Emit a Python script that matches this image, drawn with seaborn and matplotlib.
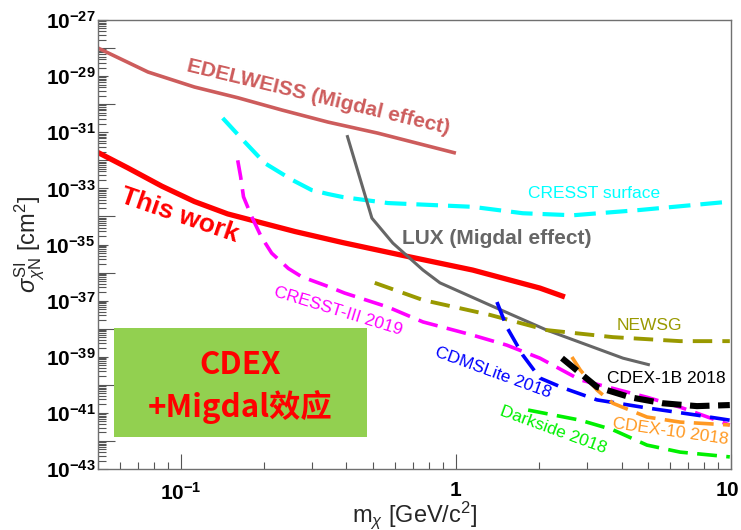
import matplotlib
matplotlib.use("Agg")
import matplotlib.pyplot as plt
import matplotlib.ticker as mticker
import matplotlib.transforms as mtransforms
from matplotlib.patches import Rectangle
import numpy as np
import pandas as pd
import seaborn as sns

# ---------------- exclusion limits (mass in GeV/c^2, cross section in cm^2) ----------------
edelweiss_x = [0.05, 0.076, 0.112, 0.161, 0.233, 0.343, 0.52, 1.0]
edelweiss_y = [1.0e-28, 1.4e-29, 4.1e-30, 1.7e-30, 6.2e-31, 2.3e-31, 9.3e-32, 1.8e-32]

thiswork_x = [0.05, 0.0641, 0.0853, 0.112, 0.148, 0.197, 0.26, 0.388, 0.625, 1.15, 2.02, 2.49]
thiswork_y = [1.9e-32, 5.4e-33, 1.2e-33, 3.4e-34, 1.23e-34, 5.9e-35, 2.9e-35, 1.17e-35,
              4.3e-36, 1.23e-36, 2.8e-37, 1.35e-37]

cresst_surf_x = [0.142, 0.164, 0.175, 0.202, 0.254, 0.299, 0.343, 0.388, 0.566, 1.15, 1.75, 2.66, 4.67, 9.35]
cresst_surf_y = [3.2e-31, 6.9e-32, 3.5e-32, 7.9e-33, 2.0e-33, 8.7e-34, 6.3e-34, 4.9e-34, 3.0e-34,
                 2.2e-34, 1.3e-34, 1.1e-34, 1.7e-34, 3.2e-34]

lux_x = [0.402, 0.495, 0.59, 0.759, 0.875, 1.33, 2.14, 4.05, 5.07]
lux_y = [7.9e-32, 8.7e-35, 1.12e-35, 1.23e-36, 4.3e-37, 6.9e-38, 8.9e-39, 8.9e-40, 5.1e-40]

cresst3_x = [0.161, 0.165, 0.169, 0.181, 0.196, 0.214, 0.246, 0.275, 0.343, 0.394, 0.566, 0.759,
             1.15, 1.53, 2.02, 2.83, 4.95, 6.53, 9.9]
cresst3_y = [1.0e-32, 2.6e-33, 5.0e-34, 9.8e-35, 1.9e-35, 4.9e-36, 1.4e-36, 7.1e-37, 3.2e-37, 1.86e-37,
             5.9e-38, 1.74e-38, 5.9e-39, 2.6e-39, 8.9e-40, 1.5e-40, 3.6e-41, 1.6e-41, 3.7e-42]

newsg_x = [0.507, 0.759, 1.33, 2.14, 3.72, 6.53, 9.9]
newsg_y = [4.3e-37, 1.05e-37, 3.1e-38, 8.9e-39, 5.0e-39, 3.6e-39, 3.6e-39]

cdmslite_x = [1.41, 1.53, 1.75, 2.02, 2.45, 3.26, 4.95, 7.52, 9.9]
cdmslite_y = [8.9e-38, 1.15e-38, 1.15e-39, 1.74e-40, 7.8e-41, 2.9e-41, 1.5e-41, 8.3e-42, 5.5e-42]

darkside_x = [1.83, 2.83, 3.72, 4.95, 6.53, 9.9]
darkside_y = [1.26e-41, 5.5e-42, 2.5e-42, 7.1e-43, 4.0e-43, 2.7e-43]

cdex10_x = [2.64, 2.83, 3.26, 3.72, 4.95, 6.53, 9.9]
cdex10_y = [9.8e-40, 3.4e-40, 6.5e-41, 2.2e-41, 7.1e-42, 4.7e-42, 3.7e-42]

cdex1b_x = [2.43, 2.83, 3.26, 4.30, 5.66, 7.52, 9.9]
cdex1b_y = [8.9e-40, 2.6e-40, 8.3e-41, 3.6e-41, 2.2e-41, 1.74e-41, 1.9e-41]

x_tick_values = [0.1, 1, 10]
x_tick_labels = [r"$\mathbf{10^{-1}}$", r"$\mathbf{1}$", r"$\mathbf{10}$"]

# ---------------- style ----------------
sns.set_style("white")
plt.rcParams.update({
    "font.family": ["Liberation Sans", "DejaVu Sans"],
    "mathtext.fontset": "custom",
    "mathtext.rm": "Liberation Sans",
    "mathtext.it": "Liberation Sans:italic",
    "mathtext.bf": "Liberation Sans:bold",
    "mathtext.sf": "Liberation Sans",
    "axes.unicode_minus": True,
    "lines.solid_capstyle": "butt",
    "lines.dash_capstyle": "butt",
})

fig = plt.figure(figsize=(7.41, 5.30), dpi=100)
ax = fig.add_axes([98 / 741, 1 - 469 / 530, 633 / 741, 449 / 530])

frames = []
series = [
    ("EDELWEISS", edelweiss_x, edelweiss_y),
    ("This work", thiswork_x, thiswork_y),
    ("CRESST surface", cresst_surf_x, cresst_surf_y),
    ("LUX", lux_x, lux_y),
    ("CRESST-III 2019", cresst3_x, cresst3_y),
    ("NEWSG", newsg_x, newsg_y),
    ("CDMSLite 2018", cdmslite_x, cdmslite_y),
    ("Darkside 2018", darkside_x, darkside_y),
    ("CDEX-10 2018", cdex10_x, cdex10_y),
    ("CDEX-1B 2018", cdex1b_x, cdex1b_y),
]
for name, xs, ys in series:
    frames.append(pd.DataFrame({"experiment": name, "mass": xs, "sigma": ys}))
df = pd.concat(frames, ignore_index=True)

styles = {
    "EDELWEISS":       dict(color="#CD5C5C", lw=2.6, ls="-"),
    "This work":       dict(color="#FF0000", lw=3.8, ls="-"),
    "CRESST surface":  dict(color="#00FFFF", lw=3.0, ls=(0, (5.2, 2.4))),
    "LUX":             dict(color="#666666", lw=2.2, ls="-"),
    "CRESST-III 2019": dict(color="#FF00FF", lw=2.6, ls=(0, (5.5, 2.6))),
    "NEWSG":           dict(color="#999900", lw=2.8, ls=(0, (5.0, 2.6))),
    "CDMSLite 2018":   dict(color="#0000FF", lw=2.6, ls=(0, (5.5, 2.6))),
    "Darkside 2018":   dict(color="#00F000", lw=2.6, ls=(0, (5.5, 2.6))),
    "CDEX-10 2018":    dict(color="#FF9922", lw=2.6, ls=(0, (5.5, 2.6))),
    "CDEX-1B 2018":    dict(color="#000000", lw=4.4, ls=(0, (3.2, 1.4))),
}

for name, _, _ in series:
    st = styles[name]
    sns.lineplot(data=df[df["experiment"] == name], x="mass", y="sigma", ax=ax,
                 color=st["color"], linewidth=st["lw"], linestyle=st["ls"],
                 estimator=None, sort=False, legend=False)

ax.set_xscale("log")
ax.set_yscale("log")
ax.set_xlim(0.05, 10)
ax.set_ylim(1e-43, 1e-27)

# ---------------- axes, ticks ----------------
for sp in ax.spines.values():
    sp.set_color("#707070")
    sp.set_linewidth(1.0)

y_exponents = list(range(-43, -26))
y_major = [10.0 ** e for e in y_exponents]
y_minor = [m * 10.0 ** e for e in range(-43, -27) for m in range(2, 10)]
ax.yaxis.set_major_locator(mticker.FixedLocator(y_major))
ax.yaxis.set_minor_locator(mticker.FixedLocator(y_minor))


def ylab(v, pos):
    e = int(round(np.log10(v)))
    return r"$\mathbf{10^{%d}}$" % e if e % 2 else ""


ax.yaxis.set_major_formatter(mticker.FuncFormatter(ylab))
ax.yaxis.set_minor_formatter(mticker.NullFormatter())

x_minor = [m * 10.0 ** e for e in range(-2, 1) for m in range(2, 10)]
x_minor = [v for v in x_minor if 0.05 <= v <= 10]
ax.xaxis.set_major_locator(mticker.FixedLocator(x_tick_values))
ax.xaxis.set_major_formatter(mticker.FixedFormatter(x_tick_labels))
ax.xaxis.set_minor_locator(mticker.FixedLocator(x_minor))
ax.xaxis.set_minor_formatter(mticker.NullFormatter())

ax.tick_params(axis="both", which="both", direction="in", colors="#555555",
               labelcolor="black", width=0.8, top=False, right=False,
               left=True, bottom=True)
ax.tick_params(axis="y", which="major", length=7, pad=2, labelsize=15)
ax.tick_params(axis="y", which="minor", length=5.5)
ax.tick_params(axis="x", which="major", length=10.5, pad=9, labelsize=15)
ax.tick_params(axis="x", which="minor", length=5)

# longer ticks on the even decades
for t, e in zip(ax.yaxis.get_major_ticks(len(y_major)), y_exponents):
    if e % 2 == 0:
        t.tick1line.set_markersize(12)

# keep the last x label inside the canvas
last_label = ax.xaxis.get_major_ticks(len(x_tick_values))[-1].label1
last_label.set_transform(last_label.get_transform() +
                         mtransforms.ScaledTranslation(-2.5 / 72, 0, fig.dpi_scale_trans))

ax.set_xlabel(r"m$_{\chi}$ [GeV/c$^{2}$]", fontsize=17, labelpad=-3)
ax.set_ylabel(r"$\sigma^{\rm SI}_{\chi \rm N}$ [cm$^{2}$]", fontsize=17, labelpad=-1)

# ---------------- curve labels ----------------
ax.text(0.315, 1.8e-30, "EDELWEISS (Migdal effect)", color="#CD5C5C", fontsize=15,
        fontweight="bold", rotation=-13.5, ha="center", va="center", rotation_mode="anchor")
ax.text(0.099, 1.1e-34, "This work", color="#FF0000", fontsize=19, fontweight="bold",
        rotation=-19, ha="center", va="center", rotation_mode="anchor")
ax.text(3.18, 6.8e-34, "CRESST surface", color="#00FFFF", fontsize=12.5,
        ha="center", va="center")
ax.text(1.41, 1.6e-35, "LUX (Migdal effect)", color="#666666", fontsize=15,
        fontweight="bold", ha="center", va="center")
ax.text(0.372, 4.3e-38, "CRESST-III 2019", color="#FF00FF", fontsize=12.5,
        rotation=-17, ha="center", va="center", rotation_mode="anchor")
ax.text(5.07, 1.35e-38, "NEWSG", color="#999900", fontsize=12.5, ha="center", va="center")
ax.text(1.36, 2.6e-40, "CDMSLite 2018", color="#0000FF", fontsize=12.5,
        rotation=-20, ha="center", va="center", rotation_mode="anchor")
ax.text(5.8, 1.74e-40, "CDEX-1B 2018", color="#000000", fontsize=12.5, ha="center", va="center")
ax.text(2.25, 2.5e-42, "Darkside 2018", color="#00F000", fontsize=12.5,
        rotation=-20, ha="center", va="center", rotation_mode="anchor")
ax.text(6.0, 2.1e-42, "CDEX-10 2018", color="#FF9922", fontsize=12.5,
        rotation=-8, ha="center", va="center", rotation_mode="anchor")

# ---------------- title box ----------------
ax.add_patch(Rectangle((0.0253, 0.0713), 0.3997, 0.2427, transform=ax.transAxes,
                       facecolor="#92D050", edgecolor="none", zorder=5))
box_font = ["Noto Sans CJK SC", "DejaVu Sans"]
ax.text(0.225, 0.2316, "CDEX", transform=ax.transAxes, color="#FF0000", fontsize=22.5,
        fontweight="bold", family=box_font, ha="center", va="center", zorder=6)
ax.text(0.225, 0.138, "+Migdal效应", transform=ax.transAxes, color="#FF0000", fontsize=22.5,
        fontweight="bold", family=box_font, ha="center", va="center", zorder=6)

fig.savefig("out.png", dpi=100)
